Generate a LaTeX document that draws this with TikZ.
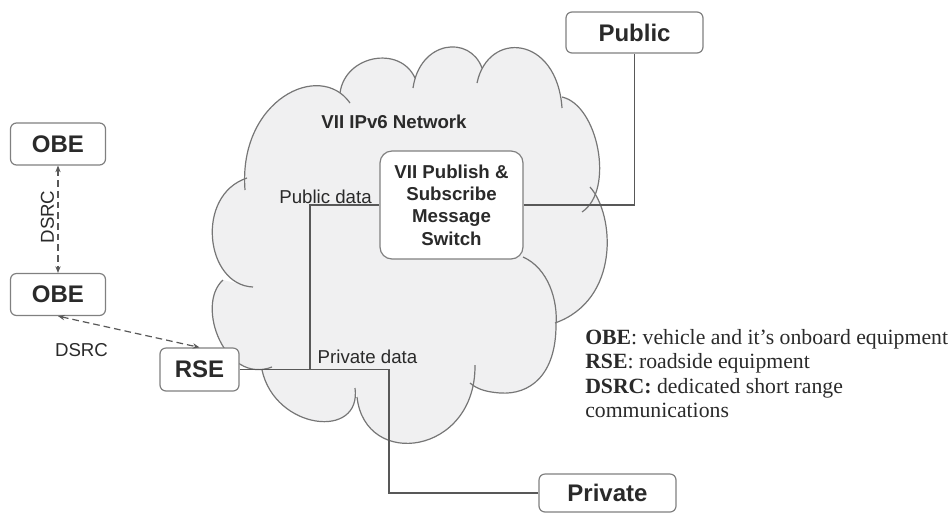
\documentclass[tikz,border=0pt]{standalone}
\usepackage{fontspec}
\setmainfont{Liberation Serif}
\setsansfont{Liberation Sans}
\usetikzlibrary{arrows.meta}
\definecolor{cloudfill}{RGB}{240,240,241}
\definecolor{cloudline}{RGB}{118,118,118}
\definecolor{wirecol}{RGB}{88,88,88}
\definecolor{boxline}{RGB}{128,128,128}
\definecolor{ink}{RGB}{42,42,42}
\begin{document}
\begin{tikzpicture}[x=0.75pt,y=-0.75pt,
  unit/.style={draw=boxline, line width=0.9pt, rounded corners=4.5pt, fill=white,
    font=\sffamily\bfseries\fontsize{18}{20}\selectfont, text=ink, inner sep=0pt},
  switchbox/.style={draw=boxline, line width=0.9pt, rounded corners=9pt, fill=white,
    font=\sffamily\bfseries\fontsize{14}{16.7}\selectfont, align=center, text=ink,
    inner sep=0pt, minimum width=107.25pt, minimum height=81pt},
  lbl/.style={font=\sffamily\fontsize{14}{16}\selectfont, text=ink, inner sep=0pt},
  wire/.style={draw=wirecol, line width=0.9pt},
  radio/.style={draw=wirecol, line width=0.9pt, dash pattern=on 5pt off 3pt,
    {Stealth[length=5pt,width=4pt]}-{Stealth[length=5pt,width=4pt]}},
  lobe/.style={draw=cloudline, line width=0.9pt}]
\useasboundingbox (0,0) rectangle (952,512);

% network cloud: filled body
\fill[cloudfill]
  (245,190) .. controls (238,100) and (320,60) .. (350,103)
  -- (340,93) .. controls (345,55) and (400,45) .. (415,78)
  -- (413,88) .. controls (420,40) and (470,35) .. (482,68)
  -- (477,83) .. controls (488,30) and (557,35) .. (562,108)
  -- (562,97) .. controls (598,105) and (615,190) .. (582,212)
  -- (590,187) .. controls (615,215) and (620,300) .. (555,323)
  -- (556,325) .. controls (556,375) and (530,395) .. (500,393)
     .. controls (488,392) and (478,390) .. (470,383)
  -- (475,365) .. controls (476,455) and (365,470) .. (357,397)
  -- (355,388) .. controls (362,440) and (275,430) .. (262,370)
  -- (272,367) .. controls (225,385) and (195,305) .. (223,280)
  -- (253,287) .. controls (205,285) and (195,195) .. (247,178)
  -- cycle;
% network cloud: outline of each lobe
\draw[lobe] (245,190) .. controls (238,100) and (320,60) .. (350,103);
\draw[lobe] (340,93) .. controls (345,55) and (400,45) .. (415,78);
\draw[lobe] (413,88) .. controls (420,40) and (470,35) .. (482,68);
\draw[lobe] (477,83) .. controls (488,30) and (557,35) .. (562,108);
\draw[lobe] (562,97) .. controls (598,105) and (615,190) .. (582,212);
\draw[lobe] (590,187) .. controls (615,215) and (620,300) .. (555,323);
\draw[lobe] (523,257) .. controls (548,268) and (558,300) .. (556,325)
  .. controls (556,375) and (530,395) .. (500,393)
  .. controls (488,392) and (478,390) .. (470,383);
\draw[lobe] (475,365) .. controls (476,455) and (365,470) .. (357,397);
\draw[lobe] (355,388) .. controls (362,440) and (275,430) .. (262,370);
\draw[lobe] (272,367) .. controls (225,385) and (195,305) .. (223,280);
\draw[lobe] (253,287) .. controls (205,285) and (195,195) .. (247,178);

\node[font=\sffamily\bfseries\fontsize{14}{16}\selectfont, text=ink, inner sep=0pt]
  (net) at (394,122) {VII IPv6 Network};

% junction points of the data lines
\coordinate (tee) at (310,369.5);
\coordinate (drop) at (389,369.5);

% equipment and end points
\node[unit, minimum width=71.25pt, minimum height=31.5pt] (obe1) at (58,144) {OBE};
\node[unit, minimum width=71.25pt, minimum height=31.5pt] (obe2) at (58,294.5) {OBE};
\node[unit, minimum width=59.25pt, minimum height=32.25pt] (rse) at (199.5,369.5) {RSE};
\node[unit, minimum width=102.75pt, minimum height=30.75pt] (pub) at (634.5,32.5) {Public};
\node[unit, minimum width=102.75pt, minimum height=28.5pt] (priv) at (607.5,493) {Private};
\node[switchbox] (ms) at (451.5,205) {VII Publish \&\\Subscribe\\Message\\Switch};

% wired connections
\draw[wire] (ms.west) -| (tee);
\draw[wire] (rse.east) -- (drop) |- (priv.west);
\draw[wire] (ms.east) -| (pub.south);

% radio links
\draw[radio] (obe1.south) -- (obe2.north);
\draw[radio] (obe2.south) -- (rse.north);

% link labels
\node[lbl, rotate=90] (dsrcv) at (47.5,217) {DSRC};
\node[lbl] (dsrch) at (81.5,350) {DSRC};
\node[lbl, anchor=base] (pubdata) at (325.5,203) {Public data};
\node[lbl, anchor=base] (privdata) at (367.5,363) {Private data};

% key
\node[anchor=north west, align=left, inner sep=0pt, text=ink,
  font=\fontsize{16.3}{18.4}\selectfont] (key) at (585,329)
  {\textbf{OBE}: vehicle and it’s onboard equipment\\
   \textbf{RSE}: roadside equipment\\
   \textbf{DSRC:} dedicated short range\\
   communications};
\end{tikzpicture}
\end{document}
